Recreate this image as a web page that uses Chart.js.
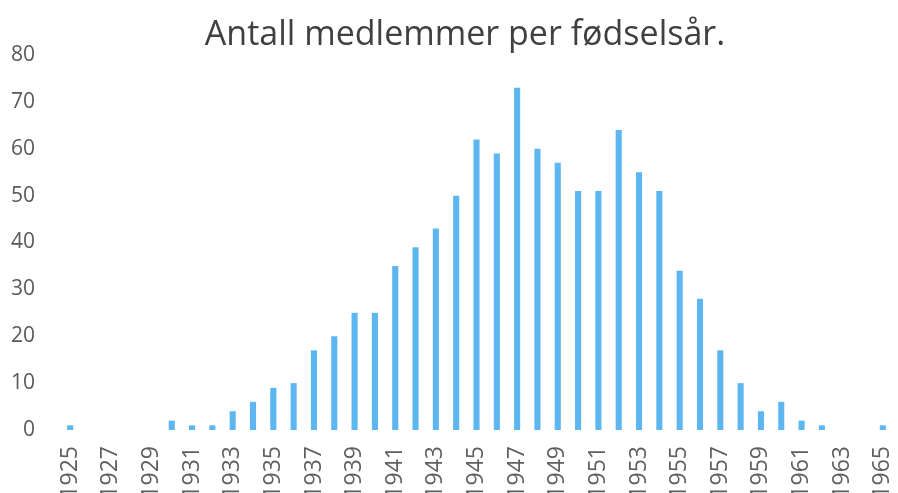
<!DOCTYPE html>
<html>
<head>
<meta charset="utf-8">
<script src="https://cdn.jsdelivr.net/npm/chart.js@4"></script>
<style>
  html, body { margin: 0; padding: 0; background: #fff; }
  #wrap { width: 898px; height: 493px; position: relative; }
</style>
</head>
<body>
<div id="wrap"><canvas id="chart"></canvas></div>
<script>
// Data
const chartTitle = 'Antall medlemmer per fødselsår.';
const years = [];
for (let y = 1925; y <= 1965; y++) years.push(String(y));
const members = [
  1, 0, 0, 0, 0, 2, 1, 1, 4, 6,
  9, 10, 17, 20, 25, 25, 35, 39, 43, 50,
  62, 59, 73, 60, 57, 51, 51, 64, 55, 51,
  34, 28, 17, 10, 4, 6, 2, 1, 0, 0,
  1
];
const yTicks = [0, 10, 20, 30, 40, 50, 60, 70, 80];

// Title drawn by hand so it can sit a bit right of the canvas centre
const titlePlugin = {
  id: 'titleText',
  afterDraw(chart) {
    const ctx = chart.ctx;
    ctx.save();
    ctx.font = '34px "Open Sans"';
    ctx.fillStyle = '#404040';
    ctx.textAlign = 'center';
    ctx.textBaseline = 'alphabetic';
    ctx.fillText(chartTitle, chart.width / 2 + 16, 45);
    ctx.restore();
  }
};

const ctx = document.getElementById('chart').getContext('2d');
new Chart(ctx, {
  type: 'bar',
  data: {
    labels: years,
    datasets: [{
      label: 'Antall',
      data: members,
      backgroundColor: '#5cb6f0',
      barPercentage: 0.6,
      categoryPercentage: 0.5,
    }]
  },
  options: {
    responsive: true, maintainAspectRatio: false,
    animation: false,
    layout: { padding: { top: 55, right: 5, left: 0, bottom: 0 } },
    scales: {
      y: {
        min: 0, max: 80,
        afterBuildTicks: axis => { axis.ticks = yTicks.map(v => ({ value: v })); },
        afterFit: axis => { axis.width = 60; },
        grid: { display: false, drawTicks: false },
        border: { display: false },
        ticks: { color: '#595959', padding: 25, font: { family: '"Open Sans"', size: 21 } }
      },
      x: {
        afterFit: axis => {
          axis.height = 63;
          // rotated labels would otherwise eat into the plot width
          axis.paddingLeft = 0;
          axis.paddingRight = 0;
        },
        grid: { display: false, drawTicks: false },
        border: { display: false },
        ticks: {
          color: '#5f5f5f',
          autoSkip: false,
          maxRotation: 90, minRotation: 90,
          padding: 16,
          font: { family: '"Open Sans"', size: 23 },
          callback: function (value, index) { return index % 2 === 0 ? this.getLabelForValue(value) : ''; }
        }
      }
    },
    plugins: { legend: { display: false }, tooltip: { enabled: false }, title: { display: false } }
  },
  plugins: [titlePlugin]
});
</script>
</body>
</html>
